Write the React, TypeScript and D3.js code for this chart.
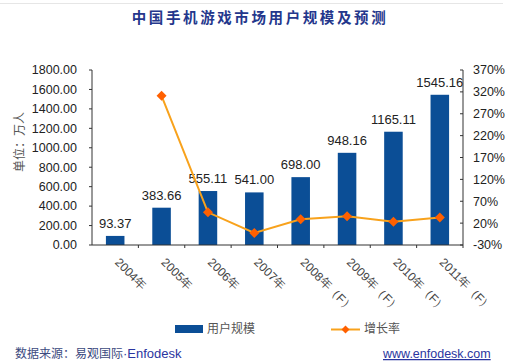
import React from "react";
import * as d3 from "d3";

const categories = ["2004年", "2005年", "2006年", "2007年", "2008年（F）", "2009年（F）", "2010年（F）", "2011年（F）"];
const users = [93.37, 383.66, 555.11, 541.0, 698.0, 948.16, 1165.11, 1545.16];
const growth: (number | null)[] = [null, 310.9, 44.7, -2.5, 29.0, 35.8, 22.9, 32.6];
const leftTicks = [0, 200, 400, 600, 800, 1000, 1200, 1400, 1600, 1800];
const rightTicks = [-30, 20, 70, 120, 170, 220, 270, 320, 370];

const W = 520;
const H = 364;
const plot = { left: 92, right: 463, top: 70, bottom: 245 };

const SANS = "'Liberation Sans', Arial, sans-serif";
const CJK = "'Noto Sans CJK SC', sans-serif";

export default function App() {
  const x = d3.scaleBand<string>().domain(categories).range([plot.left, plot.right]).paddingInner(0).paddingOuter(0);
  const yL = d3.scaleLinear().domain([0, 1800]).range([plot.bottom, plot.top]);
  const yR = d3.scaleLinear().domain([-30, 370]).range([plot.bottom, plot.top]);
  const bw = x.bandwidth() * 0.4;
  const cx = (c: string) => (x(c) as number) + x.bandwidth() / 2;

  const pts = categories
    .map((c, i) => ({ c, v: growth[i] }))
    .filter((d) => d.v !== null) as { c: string; v: number }[];
  const line = d3
    .line<{ c: string; v: number }>()
    .x((d) => cx(d.c))
    .y((d) => yR(d.v));
  const diamond = (px: number, py: number, r: number) =>
    `M${px},${py - r}L${px + r},${py}L${px},${py + r}L${px - r},${py}Z`;

  const axisColor = "#333";
  const barColor = "#0b4e96";
  const lineColor = "#f8a21c";
  const markColor = "#ff6000";

  return (
    <svg width={W} height={H} style={{ position: "absolute", left: 0, top: 0, background: "#fff" }}>
      <line x1={0} x2={503} y1={3.5} y2={3.5} stroke="#e6e6e6" strokeWidth={1} />
      <text x={260} y={23} textAnchor="middle" fontFamily={CJK} fontSize={14.5} fontWeight={700} fill="#24378c" letterSpacing={2.6}>
        中国手机游戏市场用户规模及预测
      </text>

      {/* y axis title */}
      <text transform="translate(24,142) rotate(-90)" textAnchor="middle" fontFamily={CJK} fontSize={12} fill="#555">
        单位：万人
      </text>

      {/* bars */}
      {categories.map((c, i) => (
        <rect key={c} x={cx(c) - bw / 2} y={yL(users[i])} width={bw} height={plot.bottom - yL(users[i])} fill={barColor} />
      ))}
      {categories.map((c, i) => (
        <text key={"l" + c} x={cx(c)} y={yL(users[i]) - 8} textAnchor="middle" fontFamily={SANS} fontSize={13} fill="#222">
          {users[i].toFixed(2)}
        </text>
      ))}

      {/* axes */}
      <line x1={plot.left} x2={plot.left} y1={plot.top} y2={plot.bottom} stroke={axisColor} />
      <line x1={plot.right} x2={plot.right} y1={plot.top} y2={plot.bottom} stroke={axisColor} />
      <line x1={plot.left} x2={plot.right} y1={plot.bottom} y2={plot.bottom} stroke={axisColor} />
      {leftTicks.map((t) => (
        <g key={"lt" + t}>
          <line x1={plot.left - 3} x2={plot.left} y1={yL(t)} y2={yL(t)} stroke={axisColor} />
          <text x={77} y={yL(t)} dy="0.35em" textAnchor="end" fontFamily={SANS} fontSize={12.5} fill="#222">
            {t.toFixed(2)}
          </text>
        </g>
      ))}
      {rightTicks.map((t) => (
        <g key={"rt" + t}>
          <line x1={plot.right - 3} x2={plot.right} y1={yR(t)} y2={yR(t)} stroke={axisColor} />
          <text x={473} y={yR(t)} dy="0.35em" textAnchor="start" fontFamily={SANS} fontSize={12.5} fill="#222">
            {t + "%"}
          </text>
        </g>
      ))}
      {categories.map((c) => (
        <line key={"xt" + c} x1={(x(c) as number) + x.bandwidth()} x2={(x(c) as number) + x.bandwidth()} y1={plot.bottom} y2={plot.bottom + 3} stroke={axisColor} />
      ))}
      {categories.map((c) => (
        <text
          key={"xl" + c}
          transform={`translate(${cx(c) + 2},${plot.bottom + 15}) rotate(45)`}
          textAnchor="start"
          dy="0.35em"
          fontFamily={SANS}
          fontSize={12}
          fill="#444"
        >
          {c}
        </text>
      ))}

      {/* growth line */}
      <path d={line(pts) || ""} fill="none" stroke={lineColor} strokeWidth={2} />
      {pts.map((d) => (
        <path key={"m" + d.c} d={diamond(cx(d.c), yR(d.v), 5)} fill={markColor} />
      ))}

      {/* legend */}
      <rect x={175} y={325} width={28} height={8} fill={barColor} />
      <text x={207} y={329} dy="0.35em" fontFamily={CJK} fontSize={12} fill="#555">
        用户规模
      </text>
      <line x1={331} x2={360} y1={329.5} y2={329.5} stroke={lineColor} strokeWidth={2} />
      <path d={diamond(345.5, 329.5, 4)} fill={markColor} />
      <text x={364} y={329} dy="0.35em" fontFamily={CJK} fontSize={12} fill="#555">
        增长率
      </text>

      {/* footer */}
      <text x={15} y={358} fontFamily={CJK} fontSize={12} fill="#3b4a80">
        数据来源：易观国际
        <tspan fontFamily={SANS} fontSize={13} fill="#2a35a0">·Enfodesk</tspan>
      </text>
      <text x={383} y={358} fontFamily={SANS} fontSize={12.5} fill="#2a35a0" textDecoration="underline">
        www.enfodesk.com
      </text>
    </svg>
  );
}
